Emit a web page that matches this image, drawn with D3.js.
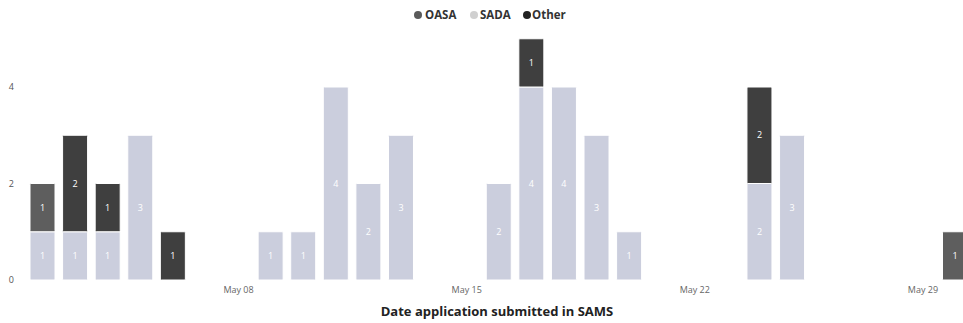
<!DOCTYPE html>
<html>
<head>
<meta charset="utf-8">
<script src="https://cdn.jsdelivr.net/npm/d3@7/dist/d3.min.js"></script>
<style>
  html, body { margin: 0; padding: 0; background: #ffffff; }
  svg { display: block; font-family: "Open Sans", "Noto Sans", sans-serif; }
</style>
</head>
<body>
<svg id="chart" width="963" height="323"></svg>
<script>
// Applications submitted per day, by source
const dates = [
  "2022-05-02", "2022-05-03", "2022-05-04", "2022-05-05", "2022-05-06",
  "2022-05-09", "2022-05-10", "2022-05-11", "2022-05-12", "2022-05-13",
  "2022-05-16", "2022-05-17", "2022-05-18", "2022-05-19", "2022-05-20",
  "2022-05-24", "2022-05-25",
  "2022-05-30"
];
const sada  = [1, 1, 1, 3, 0,  1, 1, 4, 2, 3,  2, 4, 4, 3, 1,  2, 3,  0];
const oasa  = [1, 0, 0, 0, 0,  0, 0, 0, 0, 0,  0, 0, 0, 0, 0,  0, 0,  1];
const other = [0, 2, 1, 0, 1,  0, 0, 0, 0, 0,  0, 1, 0, 0, 0,  2, 0,  0];

const seriesNames = ["OASA", "SADA", "Other"];
const stackOrder = ["SADA", "OASA", "Other"];
const colors = { OASA: "#5e5e5e", SADA: "#cbcedd", Other: "#3f3f3f" };
const legendColors = { OASA: "#5a5a5a", SADA: "#d0d0d0", Other: "#222222" };

const xTickDates = ["2022-05-08", "2022-05-15", "2022-05-22", "2022-05-29"];
const yTickValues = [0, 2, 4];

const parse = d3.timeParse("%Y-%m-%d");
const rows = dates.map((d, i) => ({
  date: parse(d), SADA: sada[i], OASA: oasa[i], Other: other[i]
}));

const svg = d3.select("#chart");

const x = d3.scaleTime()
  .domain([parse("2022-05-02"), parse("2022-05-30")])
  .range([42.5, 955]);
const y = d3.scaleLinear().domain([0, 5]).range([280, 38.75]);
const barW = 25;

const stacked = d3.stack().keys(stackOrder)(rows);

// Bars
const layers = svg.append("g").selectAll("g")
  .data(stacked).join("g")
  .attr("fill", s => colors[s.key]);

layers.selectAll("rect")
  .data(s => s.filter(d => d[1] - d[0] > 0))
  .join("rect")
  .attr("x", d => x(d.data.date) - barW / 2)
  .attr("width", barW)
  .attr("y", d => y(d[1]))
  .attr("height", d => y(d[0]) - y(d[1]))
  .attr("rx", 1)
  .attr("stroke", "#ffffff")
  .attr("stroke-width", 1);

// Value labels inside segments
layers.selectAll("text")
  .data(s => s.filter(d => d[1] - d[0] > 0))
  .join("text")
  .attr("x", d => x(d.data.date))
  .attr("y", d => (y(d[0]) + y(d[1])) / 2)
  .attr("dy", "0.35em")
  .attr("text-anchor", "middle")
  .attr("font-size", 9)
  .attr("fill", "#ffffff")
  .text(d => d[1] - d[0]);

// Y axis
const yAxis = svg.append("g")
  .attr("transform", "translate(18,0)")
  .call(d3.axisLeft(y).tickValues(yTickValues).tickFormat(d3.format("d"))
    .tickSize(0).tickPadding(4));
yAxis.select(".domain").remove();
yAxis.selectAll("text")
  .attr("font-family", "'Open Sans', sans-serif")
  .attr("font-size", 9)
  .attr("fill", "#555555");

// X axis
const xAxis = svg.append("g")
  .attr("transform", "translate(0,281)")
  .call(d3.axisBottom(x)
    .tickValues(xTickDates.map(parse))
    .tickFormat(d3.timeFormat("%b %d"))
    .tickSize(0).tickPadding(6));
xAxis.select(".domain").remove();
xAxis.selectAll("text")
  .attr("font-family", "'Open Sans', sans-serif")
  .attr("font-size", 9)
  .attr("fill", "#666666");

// Axis title
svg.append("text")
  .attr("x", 497)
  .attr("y", 316)
  .attr("text-anchor", "middle")
  .attr("font-size", 13)
  .attr("font-weight", 700)
  .attr("fill", "#222222")
  .text("Date application submitted in SAMS");

// Legend
const legendItems = [
  { key: "OASA", dot: 418, text: 425 },
  { key: "SADA", dot: 474, text: 480 },
  { key: "Other", dot: 527, text: 532 }
];
const legend = svg.append("g");
legend.selectAll("circle")
  .data(legendItems).join("circle")
  .attr("cx", d => d.dot)
  .attr("cy", 15)
  .attr("r", 4)
  .attr("fill", d => legendColors[d.key]);
legend.selectAll("text")
  .data(legendItems).join("text")
  .attr("x", d => d.text)
  .attr("y", 15)
  .attr("dy", "0.35em")
  .attr("font-size", 11.5)
  .attr("font-weight", 700)
  .attr("fill", "#333333")
  .text(d => d.key);
</script>
</body>
</html>
